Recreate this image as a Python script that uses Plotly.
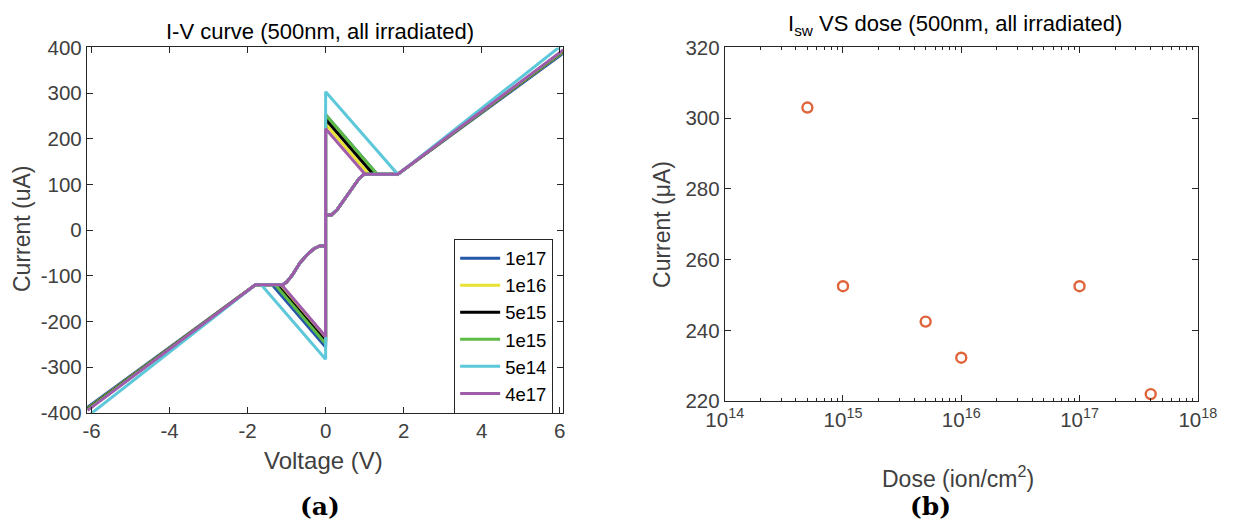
import plotly.graph_objects as go

# ---------------- data ----------------
series_names = ["1e17", "1e16", "5e15", "1e15", "5e14", "4e17"]
series_colors = ["#2457A8", "#E8E332", "#000000", "#5CBA45", "#5CC8DA", "#A05BAA"]
# switching current at V=0 on the positive / negative jump (uA)
isw_pos = [252.5, 232.3, 242.5, 252.5, 303.0, 222.0]
isw_neg = [-256.0, -240.0, -244.0, -249.0, -283.0, -233.0]
# voltage where the falling diagonal meets the plateau
vend_pos = [1.32, 1.11, 1.22, 1.32, 1.83, 1.01]
vend_neg = [-1.37, -1.21, -1.25, -1.29, -1.65, -1.13]
# current at the sweep ends (V = +/-6.1)
v_sweep_end = 6.1
i_end_pos = [388.0, 391.0, 392.0, 393.0, 408.0, 395.0]
i_end_neg = [-388.0, -391.0, -392.0, -393.0, -408.0, -395.0]
# shared plateau / knee values
v_knee_pos, v_knee_neg = 1.85, -1.8
i_plat_pos, i_plat_neg = 122.0, -120.0
# low-current branch (shared by all curves)
s_pos_v = [0.0, 0.15, 0.3, 0.5, 0.7, 0.85, 0.95, 1.0]
s_pos_i = [33, 33, 45, 68, 93, 112, 120, 122]
s_neg_v = [0.0, -0.15, -0.3, -0.45, -0.66, -0.85, -1.0, -1.1]
s_neg_i = [-35, -35, -41, -52, -72, -98, -114, -120]

# right panel
dose = [5e14, 1e15, 5e15, 1e16, 1e17, 4e17]
isw_dose = [303.0, 252.5, 242.5, 232.3, 252.5, 222.0]

x_ticks_left = [-6, -4, -2, 0, 2, 4, 6]
x_ticklabels_left = ["-6", "-4", "-2", "0", "2", "4", "6"]
y_ticks_left = [-400, -300, -200, -100, 0, 100, 200, 300, 400]
y_ticklabels_left = ["-400", "-300", "-200", "-100", "0", "100", "200", "300", "400"]
y_ticks_right = [220, 240, 260, 280, 300, 320]
dose_decades = [1e14, 1e15, 1e16, 1e17, 1e18]
dose_decade_labels = ["10<sup>14</sup>", "10<sup>15</sup>", "10<sup>16</sup>",
                      "10<sup>17</sup>", "10<sup>18</sup>"]
dose_minor = [m * d for d in [1e14, 1e15, 1e16, 1e17] for m in range(2, 10)]

W, H = 1242, 526
FONT = "Liberation Sans, Arial, sans-serif"
SERIF = "DejaVu Serif, Liberation Serif, serif"
AX = "#262626"
TXT = "#404040"

fig = go.Figure()

for k, name in enumerate(series_names):
    V = [v_sweep_end, v_knee_pos]
    I = [i_end_pos[k], i_plat_pos]
    V += s_pos_v[::-1]
    I += s_pos_i[::-1]
    V += [0.0, vend_neg[k], v_knee_neg, -v_sweep_end, v_knee_neg]
    I += [isw_neg[k], i_plat_neg, i_plat_neg, i_end_neg[k], i_plat_neg]
    V += s_neg_v[::-1]
    I += s_neg_i[::-1]
    V += [0.0, vend_pos[k], v_knee_pos, v_sweep_end]
    I += [isw_pos[k], i_plat_pos, i_plat_pos, i_end_pos[k]]
    fig.add_trace(go.Scatter(x=V, y=I, mode="lines", name=name,
                             line=dict(color=series_colors[k], width=3),
                             xaxis="x", yaxis="y", showlegend=True))

fig.add_trace(go.Scatter(x=dose, y=isw_dose, mode="markers",
                         marker=dict(symbol="circle-open", size=10,
                                     color="#E0643A", line=dict(width=2.4)),
                         xaxis="x2", yaxis="y2", showlegend=False))

def px_x(p):
    return p / W

def px_y(p):
    return 1 - p / H

axis_common = dict(showgrid=False, zeroline=False, showline=True, linecolor=AX,
                   linewidth=1, mirror="allticks", ticks="inside", ticklen=6,
                   tickcolor=AX, ticklabeloverflow="allow",
                   tickfont=dict(family=FONT, size=20.5, color=TXT))

fig.update_layout(
    width=W, height=H, margin=dict(l=0, r=0, t=0, b=0),
    paper_bgcolor="white", plot_bgcolor="white",
    font=dict(family=FONT, color=TXT),
    xaxis=dict(domain=[px_x(70), px_x(561)], range=[-6.12, 6.08],
               tickvals=x_ticks_left, ticktext=x_ticklabels_left, anchor="y",
               **axis_common),
    yaxis=dict(domain=[px_y(419), px_y(37)], range=[-400, 400],
               tickvals=y_ticks_left, ticktext=y_ticklabels_left, anchor="x",
               **axis_common),
    xaxis2=dict(domain=[px_x(728), px_x(1216)], type="log", range=[14, 18],
                tickvals=dose_decades, ticktext=dose_decade_labels, anchor="y2",
                minor=dict(tickvals=dose_minor, ticks="inside", ticklen=3,
                           tickcolor=AX, showgrid=False),
                **axis_common),
    yaxis2=dict(domain=[px_y(407), px_y(37)], range=[220, 320],
                tickvals=y_ticks_right, anchor="x2", **axis_common),
    legend=dict(x=px_x(551), xanchor="right", y=px_y(237), yanchor="top",
                bgcolor="white", bordercolor=AX, borderwidth=1,
                font=dict(family=FONT, size=18.5, color="#000000"),
                tracegroupgap=0, itemwidth=40),
)

ann = [
    dict(x=px_x(310), y=px_y(20), text="I-V curve (500nm, all irradiated)",
         font=dict(size=22, color="#000000")),
    dict(x=px_x(966), y=px_y(14), text="I<sub>sw</sub> VS dose (500nm, all irradiated)",
         font=dict(size=22, color="#000000")),
    dict(x=px_x(314), y=px_y(469), text="Voltage (V)", font=dict(size=24, color=TXT)),
    dict(x=px_x(3), y=px_y(226), text="Current (uA)", textangle=-90,
         font=dict(size=23, color=TXT)),
    dict(x=px_x(969), y=px_y(486), text="Dose (ion/cm<sup>2</sup>)",
         font=dict(size=23, color=TXT)),
    dict(x=px_x(664), y=px_y(222), text="Current (μA)", textangle=-90,
         font=dict(size=23, color=TXT)),
    dict(x=px_x(310), y=px_y(517), text="<b>(a)</b>",
         font=dict(family=SERIF, size=25, color="#000000")),
    dict(x=px_x(940), y=px_y(517), text="<b>(b)</b>",
         font=dict(family=SERIF, size=25, color="#000000")),
]
for a in ann:
    a.update(xref="paper", yref="paper", showarrow=False, xanchor="center", yanchor="middle")
    a["font"].setdefault("family", FONT)
fig.update_layout(annotations=ann)

fig.write_html("out.html")
